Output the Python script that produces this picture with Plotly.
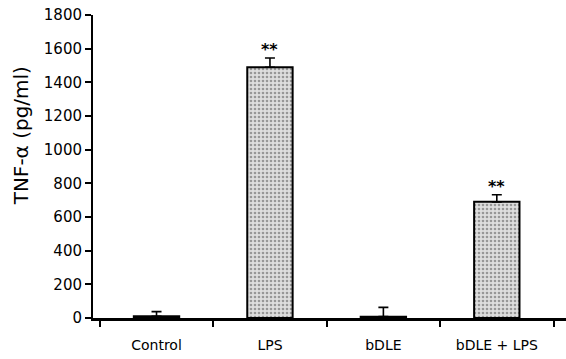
import plotly.graph_objects as go

# TNF-alpha release per treatment group
groups = ["Control", "LPS", "bDLE", "bDLE + LPS"]
tnf_mean = [10, 1490, 8, 690]
tnf_sem = [28, 55, 55, 42]
significance = ["", "**", "", "**"]

FONT = "DejaVu Sans"

fig = go.Figure()
fig.add_trace(go.Bar(
    x=groups,
    y=tnf_mean,
    width=0.4,
    marker=dict(
        color="#d0d0d0",
        line=dict(color="black", width=2),
        pattern=dict(shape=".", fgcolor="#505050", bgcolor="#dedede",
                     size=4, solidity=0.35),
    ),
    error_y=dict(type="data", array=tnf_sem, arrayminus=[0] * len(tnf_sem),
                 symmetric=False, color="black", thickness=1.6, width=5),
    showlegend=False,
))

# significance markers above the error bars
for g, m, e, s in zip(groups, tnf_mean, tnf_sem, significance):
    if s:
        fig.add_annotation(x=g, y=m + e, text="<b>" + s + "</b>", showarrow=False,
                           yanchor="bottom", yshift=-3,
                           font=dict(family=FONT, size=16, color="black"))

# rotated y-axis title
fig.add_annotation(xref="paper", yref="paper", x=-0.152, y=0.6,
                   text="TNF-\u03b1 (pg/ml)", textangle=-90, showarrow=False,
                   xanchor="center", yanchor="middle",
                   font=dict(family=FONT, size=20, color="black"))

fig.update_layout(
    width=566, height=359,
    margin=dict(l=93, r=0, t=15, b=41),
    paper_bgcolor="white", plot_bgcolor="white",
    font=dict(family=FONT, color="black"),
    bargap=0.6,
)
fig.update_xaxes(
    type="category", range=[-0.56, 3.61],
    showline=True, linecolor="black", linewidth=2.5,
    ticks="outside", tickson="boundaries", ticklen=6, tickwidth=1.5,
    tickcolor="black", showgrid=False, zeroline=False,
    ticklabelstandoff=12,
    tickfont=dict(family=FONT, size=14, color="black"),
)
fig.update_yaxes(
    range=[0, 1800], tickvals=list(range(0, 1801, 200)),
    showline=True, linecolor="black", linewidth=2,
    ticks="outside", ticklen=6, tickwidth=1.5, tickcolor="black",
    showgrid=False, zeroline=False,
    tickfont=dict(family=FONT, size=15, color="black"),
)

fig.write_html("out.html")
